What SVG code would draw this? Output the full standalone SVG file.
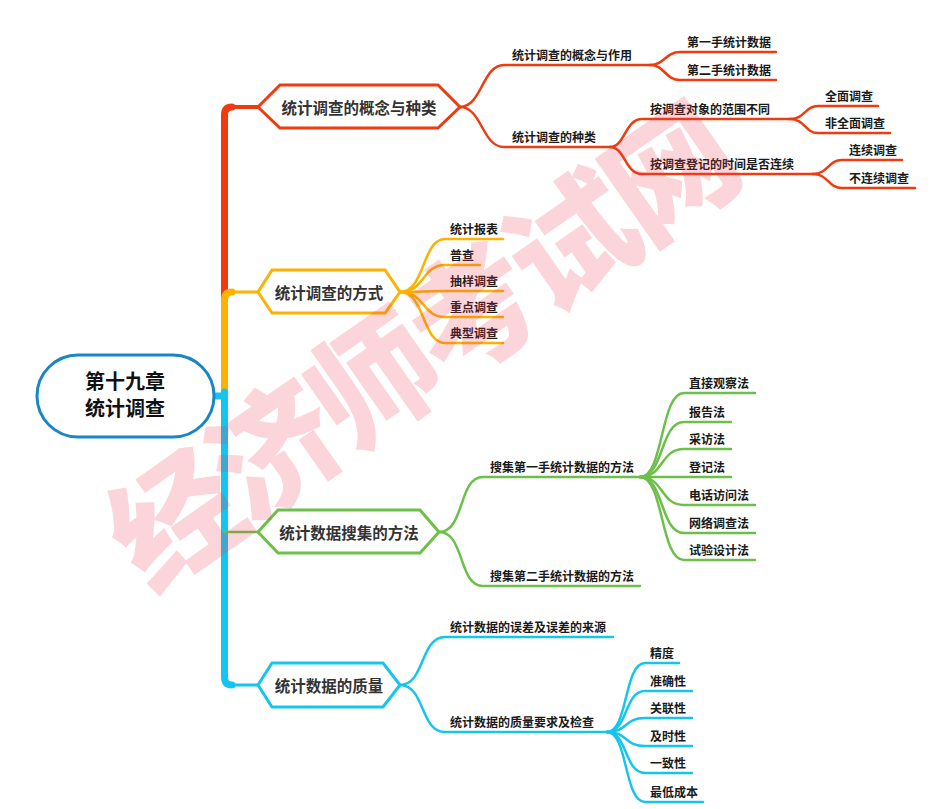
<svg xmlns="http://www.w3.org/2000/svg" width="936" height="809" viewBox="0 0 936 809">
<style>
text{font-family:"Noto Sans CJK SC","Noto Sans",sans-serif;font-weight:bold}
.leaf{font-size:12px;fill:#1a1a1a}
.hex{font-size:15.5px;fill:#333;text-anchor:middle;dominant-baseline:central}
.c{fill:none;stroke-linecap:round;stroke-linejoin:round}
.r{stroke:#ef3b10}
.o{stroke:#fdb100}
.g{stroke:#6cc04a}
.b{stroke:#15c5ee}
.w2{stroke-width:2.5}
.wm{font-size:127px;letter-spacing:-6px;font-weight:900;fill:#ee3344;opacity:0.2;text-anchor:middle;dominant-baseline:central}
</style>
<rect width="936" height="809" fill="#fff"/>
<g id="connectors">
  <path class="c r" stroke-width="7" d="M224.5,296 V115 Q224.5,107 232,107"/>
  <path class="c r" stroke-width="4" d="M230,107 H258"/>
  <path class="c o" stroke-width="7" d="M224.5,392 V300 Q224.5,292 232,292"/>
  <path class="c o" stroke-width="3" d="M230,292 H258"/>
  <path class="c b" stroke-width="7" d="M224.5,392 V677 Q224.5,685 232,685"/>
  <path class="c b" stroke-width="3" d="M230,685 H258"/>
  <path class="c b" stroke-width="7" stroke-linecap="butt" d="M212,396 H224"/>
  <path class="c g" stroke-width="2.5" d="M224,532 H258"/>
  <path class="c r w2" d="M460,107 C482,107 482,65 504,65 H650"/>
  <path class="c r w2" d="M460,107 C482,107 482,147 504,147 H610"/>
  <path class="c r w2" d="M650,65 C665,65 665,52 680,52 H776"/>
  <path class="c r w2" d="M650,65 C665,65 665,80 680,80 H776"/>
  <path class="c r w2" d="M610,147 C625,147 625,119 642,119 H790"/>
  <path class="c r w2" d="M610,147 C625,147 625,174 642,174 H813"/>
  <path class="c r w2" d="M790,119 C805,119 805,106 818,106 H878"/>
  <path class="c r w2" d="M790,119 C805,119 805,133 818,133 H890"/>
  <path class="c r w2" d="M813,174 C828,174 828,160 842,160 H902"/>
  <path class="c r w2" d="M813,174 C828,174 828,188 842,188 H915"/>
  <path class="c o w2" d="M400,292 C425,292 422,239 445,239 H503"/>
  <path class="c o w2" d="M400,292 C425,292 422,265 445,265 H480"/>
  <path class="c o w2" d="M400,292 C425,292 422,291 445,291 H503"/>
  <path class="c o w2" d="M400,292 C425,292 422,317 445,317 H503"/>
  <path class="c o w2" d="M400,292 C425,292 422,343 445,343 H503"/>
  <path class="c g w2" d="M439,532 C465,532 458,477 483,477 H640"/>
  <path class="c g w2" d="M439,532 C465,532 458,586 483,586 H640"/>
  <path class="c g w2" d="M640,477 C664,477 660,393 684,393 H755"/>
  <path class="c g w2" d="M640,477 C664,477 660,422 684,422 H731"/>
  <path class="c g w2" d="M640,477 C664,477 660,449 684,449 H731"/>
  <path class="c g w2" d="M640,477 C664,477 660,477 684,477 H731"/>
  <path class="c g w2" d="M640,477 C664,477 660,505 684,505 H755"/>
  <path class="c g w2" d="M640,477 C664,477 660,533 684,533 H755"/>
  <path class="c g w2" d="M640,477 C664,477 660,560 684,560 H755"/>
  <path class="c b w2" d="M400,685 C425,685 420,637 445,637 H613"/>
  <path class="c b w2" d="M400,685 C425,685 420,732 445,732 H607"/>
  <path class="c b w2" d="M607,732 C628,732 624,663 645,663 H679"/>
  <path class="c b w2" d="M607,732 C628,732 624,691 645,691 H692"/>
  <path class="c b w2" d="M607,732 C628,732 624,718 645,718 H692"/>
  <path class="c b w2" d="M607,732 C628,732 624,746 645,746 H692"/>
  <path class="c b w2" d="M607,732 C628,732 624,773 645,773 H692"/>
  <path class="c b w2" d="M607,732 C628,732 624,802 645,802 H703"/>
</g>
<g id="root">
  <rect x="37" y="355" width="177" height="82" rx="41" fill="#fff" stroke="#1a86c8" stroke-width="3"/>
  <text font-size="20" text-anchor="middle" fill="#111"><tspan x="125" y="389">第十九章</tspan><tspan x="125" y="416">统计调查</tspan></text>
</g>
<g id="n1">
  <polygon points="258,107 280,85 438,85 460,107 438,128 280,128" fill="#fff" stroke="#ef3b10" stroke-width="3"/>
  <text class="hex" x="359" y="107">统计调查的概念与种类</text>
</g>
<g id="n1a"><text class="leaf" x="512" y="60">统计调查的概念与作用</text></g>
<g id="n1b"><text class="leaf" x="512" y="142">统计调查的种类</text></g>
<g id="n1a1"><text class="leaf" x="687" y="47">第一手统计数据</text></g>
<g id="n1a2"><text class="leaf" x="687" y="75">第二手统计数据</text></g>
<g id="n1b1"><text class="leaf" x="650" y="114">按调查对象的范围不同</text></g>
<g id="n1b2"><text class="leaf" x="650" y="169">按调查登记的时间是否连续</text></g>
<g id="n1b1a"><text class="leaf" x="825" y="101">全面调查</text></g>
<g id="n1b1b"><text class="leaf" x="825" y="128">非全面调查</text></g>
<g id="n1b2a"><text class="leaf" x="849" y="155">连续调查</text></g>
<g id="n1b2b"><text class="leaf" x="849" y="183">不连续调查</text></g>
<g id="n2">
  <polygon points="258,292 272,270 385,270 400,292 385,313 272,313" fill="#fff" stroke="#fdb100" stroke-width="3"/>
  <text class="hex" x="329" y="292">统计调查的方式</text>
</g>
<g id="n2a"><text class="leaf" x="450" y="234">统计报表</text></g>
<g id="n2b"><text class="leaf" x="450" y="260">普查</text></g>
<g id="n2c"><text class="leaf" x="450" y="286">抽样调查</text></g>
<g id="n2d"><text class="leaf" x="450" y="312">重点调查</text></g>
<g id="n2e"><text class="leaf" x="450" y="338">典型调查</text></g>
<g id="n3">
  <polygon points="258,532 278,510 420,510 439,532 420,553 278,553" fill="#fff" stroke="#6cc04a" stroke-width="3"/>
  <text class="hex" x="349" y="532">统计数据搜集的方法</text>
</g>
<g id="n3a"><text class="leaf" x="490" y="472">搜集第一手统计数据的方法</text></g>
<g id="n3b"><text class="leaf" x="490" y="581">搜集第二手统计数据的方法</text></g>
<g id="n3a1"><text class="leaf" x="689" y="388">直接观察法</text></g>
<g id="n3a2"><text class="leaf" x="689" y="417">报告法</text></g>
<g id="n3a3"><text class="leaf" x="689" y="444">采访法</text></g>
<g id="n3a4"><text class="leaf" x="689" y="472">登记法</text></g>
<g id="n3a5"><text class="leaf" x="689" y="500">电话访问法</text></g>
<g id="n3a6"><text class="leaf" x="689" y="528">网络调查法</text></g>
<g id="n3a7"><text class="leaf" x="689" y="555">试验设计法</text></g>
<g id="n4">
  <polygon points="258,685 272,663 383,663 400,685 383,707 272,707" fill="#fff" stroke="#15c5ee" stroke-width="3"/>
  <text class="hex" x="329" y="685">统计数据的质量</text>
</g>
<g id="n4a"><text class="leaf" x="450" y="632">统计数据的误差及误差的来源</text></g>
<g id="n4b"><text class="leaf" x="450" y="727">统计数据的质量要求及检查</text></g>
<g id="n4b1"><text class="leaf" x="650" y="658">精度</text></g>
<g id="n4b2"><text class="leaf" x="650" y="686">准确性</text></g>
<g id="n4b3"><text class="leaf" x="650" y="713">关联性</text></g>
<g id="n4b4"><text class="leaf" x="650" y="741">及时性</text></g>
<g id="n4b5"><text class="leaf" x="650" y="768">一致性</text></g>
<g id="n4b6"><text class="leaf" x="650" y="797">最低成本</text></g>
<text class="wm" x="416" y="341" transform="rotate(-35 416 341)">经济师考试网</text>
</svg>
